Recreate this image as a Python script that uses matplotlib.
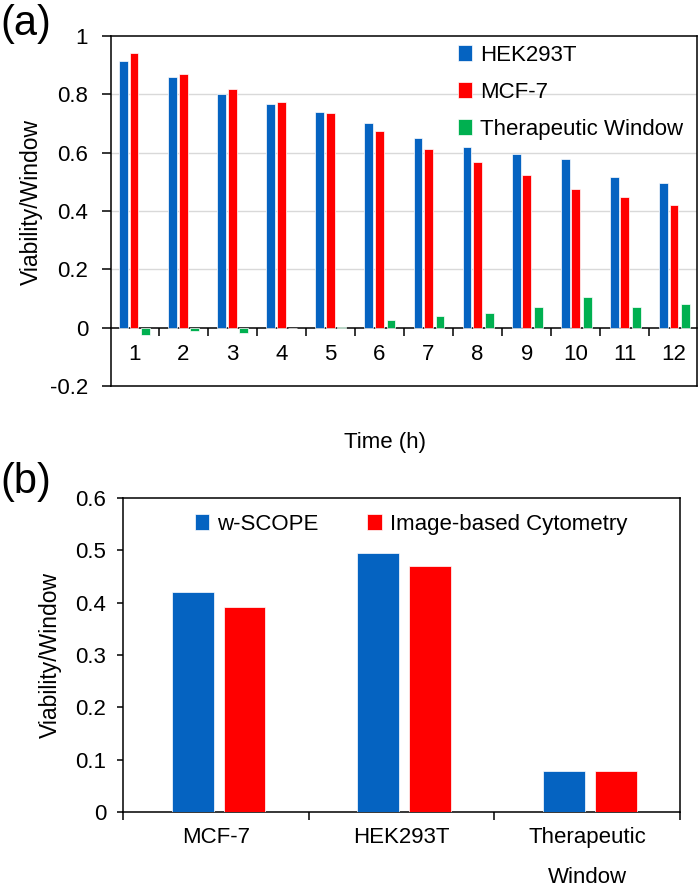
import numpy as np
import matplotlib.pyplot as plt

plt.rcParams['font.family'] = ['Liberation Sans', 'DejaVu Sans']

# panel (a): viability over time
HOURS = [1, 2, 3, 4, 5, 6, 7, 8, 9, 10, 11, 12]
HEK293T = [0.913, 0.858, 0.801, 0.768, 0.739, 0.700, 0.651, 0.618, 0.595, 0.579, 0.515, 0.497]
MCF7 = [0.940, 0.870, 0.818, 0.774, 0.736, 0.674, 0.611, 0.568, 0.525, 0.476, 0.447, 0.420]
WINDOW = [-0.025, -0.012, -0.017, 0.0, 0.002, 0.027, 0.040, 0.049, 0.072, 0.105, 0.070, 0.080]
SERIES_A = ['HEK293T', 'MCF-7', 'Therapeutic Window']
YTICKS_A = [-0.2, 0, 0.2, 0.4, 0.6, 0.8, 1]
YLABELS_A = ['-0.2', '0', '0.2', '0.4', '0.6', '0.8', '1']

# panel (b): method comparison
CATS_B = ['MCF-7', 'HEK293T', 'Therapeutic\nWindow']
WSCOPE = [0.420, 0.495, 0.078]
CYTOMETRY = [0.392, 0.471, 0.079]
SERIES_B = ['w-SCOPE', 'Image-based Cytometry']
YTICKS_B = [0, 0.1, 0.2, 0.3, 0.4, 0.5, 0.6]
YLABELS_B = ['0', '0.1', '0.2', '0.3', '0.4', '0.5', '0.6']

BLUE, RED, GREEN = '#0563C1', '#FF0000', '#00B050'
W, H = 700, 891

fig = plt.figure(figsize=(7, 8.91), dpi=100)

# ---------------- (a)
ax = fig.add_axes([111 / W, 1 - 386 / H, 586 / W, 350 / H])
x = np.array(HOURS)
bw = 0.18
ax.bar(x - 0.215, HEK293T, bw, color=BLUE, edgecolor='white', linewidth=0.5, label=SERIES_A[0], zorder=3)
ax.bar(x, MCF7, bw, color=RED, edgecolor='white', linewidth=0.5, label=SERIES_A[1], zorder=3)
ax.bar(x + 0.235, WINDOW, bw, color=GREEN, edgecolor='white', linewidth=0.5, label=SERIES_A[2], zorder=3)
ax.set_xlim(0.53, 12.47)
ax.set_ylim(-0.2, 1.0)
ax.set_yticks(YTICKS_A)
ax.set_yticklabels(YLABELS_A)
ax.tick_params(axis='y', direction='out', length=6.5, width=1.1, pad=10, labelsize=16)
ax.set_xticks([])
for g in [0.2, 0.4, 0.6, 0.8]:
    ax.axhline(g, color='#d9d9d9', linewidth=1, zorder=1)
for s in ax.spines.values():
    s.set_linewidth(1.1)

sec = ax.secondary_xaxis(0, transform=ax.transData)
sec.set_xticks(HOURS)
sec.set_xticklabels([str(h) for h in HOURS])
sec.set_xticks(np.arange(1.5, 12, 1), minor=True)
sec.tick_params(axis='x', which='major', length=0, pad=12, labelsize=16)
sec.tick_params(axis='x', which='minor', length=6, width=1.1, direction='out')
sec.spines['bottom'].set_linewidth(1.1)

ax.set_ylabel('Viability/Window', fontsize=16.5)
ax.yaxis.set_label_coords(-0.116, 0.526)
ax.set_xlabel('Time (h)', fontsize=16)
ax.xaxis.set_label_coords(0.4676, -0.131)

ax.legend(loc='upper left', bbox_to_anchor=(0.592, 0.975), frameon=False, fontsize=16,
          handlelength=0.65, handleheight=0.7, handletextpad=0.35, labelspacing=0.72,
          borderpad=0, borderaxespad=0)
fig.text(0, 1 - 24 / H, '(a)', fontsize=30, va='center', ha='left')

# ---------------- (b)
bx = fig.add_axes([123 / W, 1 - 812 / H, 557 / W, 314 / H])
xb = np.arange(len(CATS_B))
bwb = 0.225
bx.bar(xb - 0.125, WSCOPE, bwb, color=BLUE, edgecolor='white', linewidth=0.5, label=SERIES_B[0], zorder=3)
bx.bar(xb + 0.155, CYTOMETRY, bwb, color=RED, edgecolor='white', linewidth=0.5, label=SERIES_B[1], zorder=3)
bx.set_xlim(-0.5, 2.5)
bx.set_ylim(0, 0.6)
bx.set_yticks(YTICKS_B)
bx.set_yticklabels(YLABELS_B)
bx.tick_params(axis='y', direction='out', length=4, width=1.1, pad=8, labelsize=16)
bx.set_xticks(xb)
bx.set_xticklabels(CATS_B, linespacing=2.15)
bx.set_xticks(np.arange(-0.5, 3, 1), minor=True)
bx.tick_params(axis='x', which='major', length=0, pad=11, labelsize=16)
bx.tick_params(axis='x', which='minor', length=6, width=1.1, direction='out')
for s in bx.spines.values():
    s.set_linewidth(1.1)
bx.set_ylabel('Viability/Window', fontsize=16.5)
bx.yaxis.set_label_coords(-0.11, 0.5)
bx.legend(loc='upper left', bbox_to_anchor=(0.129, 0.95), ncol=2, frameon=False, fontsize=16,
          handlelength=0.65, handleheight=0.7, handletextpad=0.35, columnspacing=2.2,
          borderpad=0, borderaxespad=0)
fig.text(0, 1 - 482 / H, '(b)', fontsize=30, va='center', ha='left')

fig.savefig('out.png', dpi=100)
